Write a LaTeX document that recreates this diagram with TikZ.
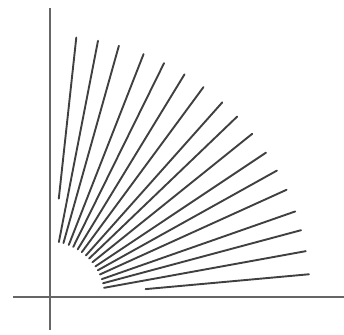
\documentclass[tikz,border=0pt]{standalone}
\begin{document}
\begin{tikzpicture}[x=1pt,y=1pt,
  axis/.style={line width=1.1pt, draw=black!60},
  ray/.style={line width=1.9pt, draw=black!75, line cap=round}]
\useasboundingbox (0,0) rectangle (344,334);
\coordinate (O) at (48,36);
\coordinate (vtop) at (50,326);
\coordinate (vbot) at (50,4);
\coordinate (hleft) at (13,37);
\coordinate (hright) at (344,37);
\draw[axis] (vbot) -- (vtop);
\draw[axis] (hleft) -- (hright);
\foreach \ang/\rin in {5.2/98, 10.3/57, 15.0/57, 19.3/57, 24.4/57, 29.1/57, 33.7/57, 38.8/57,
  43.8/57, 48.3/57, 53.6/57, 58.6/57, 63.7/57, 68.6/57, 74.3/57, 79.0/57, 83.8/100} {
  \draw[ray, shift={(O)}] (\ang:\rin) -- (\ang:262);
}
\end{tikzpicture}
\end{document}
